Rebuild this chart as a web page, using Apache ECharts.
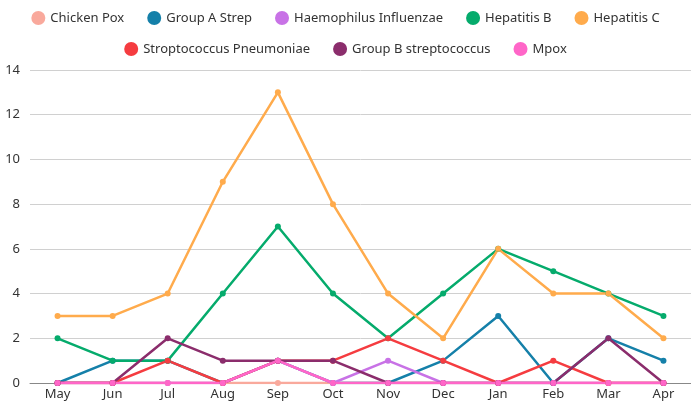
<!DOCTYPE html>
<html><head><meta charset="utf-8">
<script src="https://cdn.jsdelivr.net/npm/echarts@6/dist/echarts.min.js"></script>
<style>html,body{margin:0;padding:0;background:#fff}#c{width:691px;height:402px}</style>
</head><body><div id="c"></div>
<script>
const months = ['May','Jun','Jul','Aug','Sep','Oct','Nov','Dec','Jan','Feb','Mar','Apr'];
const chickenPox = [0,0,0,0,0,0,0,0,0,0,0,0];
const groupAStrep = [0,1,1,0,1,0,0,1,3,0,2,1];
const haemophilus = [0,0,0,0,1,0,1,0,0,0,0,0];
const hepatitisB = [2,1,1,4,7,4,2,4,6,5,4,3];
const hepatitisC = [3,3,4,9,13,8,4,2,6,4,4,2];
const strepPneumoniae = [0,0,1,0,1,1,2,1,0,1,0,0];
const groupBStrep = [0,0,2,1,1,1,0,0,0,0,2,0];
const mpox = [0,0,0,0,1,0,0,0,0,0,0,0];
const yTicks = [0,2,4,6,8,10,12,14];

const seriesDefs = [
  ['Chicken Pox', chickenPox, '#f9a99c'],
  ['Group A Strep', groupAStrep, '#1580a9'],
  ['Haemophilus Influenzae', haemophilus, '#c872e6'],
  ['Hepatitis B', hepatitisB, '#05ab6c'],
  ['Hepatitis C', hepatitisC, '#ffab4c'],
  ['Stroptococcus Pneumoniae', strepPneumoniae, '#f53c40'],
  ['Group B streptococcus', groupBStrep, '#8b2d6c'],
  ['Mpox', mpox, '#ff66c8']
];
const FONT = 'Noto Sans';
const legendCommon = {
  icon: 'circle', itemWidth: 14, itemHeight: 14, itemGap: 23,
  textStyle: {fontFamily: FONT, fontSize: 13, color: '#333'}
};
const chart = echarts.init(document.getElementById('c'));
chart.setOption({
  animation: false,
  color: seriesDefs.map(s => s[2]),
  legend: [
    Object.assign({top: 6, left: 'center', data: seriesDefs.slice(0,5).map(s => s[0])}, legendCommon),
    Object.assign({top: 37, left: 'center', data: seriesDefs.slice(5).map(s => s[0])}, legendCommon)
  ],
  grid: {left: 30, right: 0, top: 70, bottom: 19, containLabel: false},
  xAxis: {
    type: 'category', data: months, boundaryGap: true,
    axisLine: {lineStyle: {color: '#888'}}, axisTick: {show: false},
    axisLabel: {fontFamily: FONT, fontSize: 13, color: '#333', margin: 5}
  },
  yAxis: {
    type: 'value', min: 0, max: 14, interval: 2,
    axisLabel: {fontFamily: FONT, fontSize: 13, color: '#333', margin: 10},
    splitLine: {lineStyle: {color: '#d0d0d0', width: 1}},
    axisLine: {show: false}, axisTick: {show: false}
  },
  series: seriesDefs.map(s => ({
    name: s[0], type: 'line', data: s[1],
    symbol: 'circle', symbolSize: 6,
    lineStyle: {width: 2.5, color: s[2]},
    itemStyle: {color: s[2]}
  }))
});
</script></body></html>
